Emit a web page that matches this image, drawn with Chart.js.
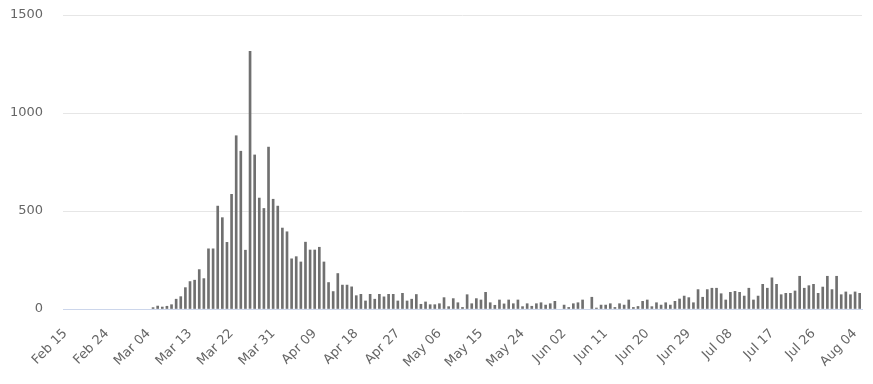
<!DOCTYPE html>
<html>
<head>
<meta charset="utf-8">
<script src="https://cdn.jsdelivr.net/npm/chart.js@4/dist/chart.umd.min.js"></script>
<style>
html,body{margin:0;padding:0;background:#fff;}
#wrap{width:873px;height:384px;position:relative;}
</style>
</head>
<body>
<div id="wrap"><canvas id="c" width="873" height="384"></canvas></div>
<script>
const categories = [
"Feb 15","Feb 16","Feb 17","Feb 18","Feb 19","Feb 20","Feb 21","Feb 22","Feb 23","Feb 24","Feb 25","Feb 26","Feb 27","Feb 28","Feb 29",
"Mar 01","Mar 02","Mar 03","Mar 04","Mar 05","Mar 06","Mar 07","Mar 08","Mar 09","Mar 10","Mar 11","Mar 12","Mar 13","Mar 14","Mar 15","Mar 16","Mar 17","Mar 18","Mar 19","Mar 20","Mar 21","Mar 22","Mar 23","Mar 24","Mar 25","Mar 26","Mar 27","Mar 28","Mar 29","Mar 30","Mar 31",
"Apr 01","Apr 02","Apr 03","Apr 04","Apr 05","Apr 06","Apr 07","Apr 08","Apr 09","Apr 10","Apr 11","Apr 12","Apr 13","Apr 14","Apr 15","Apr 16","Apr 17","Apr 18","Apr 19","Apr 20","Apr 21","Apr 22","Apr 23","Apr 24","Apr 25","Apr 26","Apr 27","Apr 28","Apr 29","Apr 30",
"May 01","May 02","May 03","May 04","May 05","May 06","May 07","May 08","May 09","May 10","May 11","May 12","May 13","May 14","May 15","May 16","May 17","May 18","May 19","May 20","May 21","May 22","May 23","May 24","May 25","May 26","May 27","May 28","May 29","May 30","May 31",
"Jun 01","Jun 02","Jun 03","Jun 04","Jun 05","Jun 06","Jun 07","Jun 08","Jun 09","Jun 10","Jun 11","Jun 12","Jun 13","Jun 14","Jun 15","Jun 16","Jun 17","Jun 18","Jun 19","Jun 20","Jun 21","Jun 22","Jun 23","Jun 24","Jun 25","Jun 26","Jun 27","Jun 28","Jun 29","Jun 30",
"Jul 01","Jul 02","Jul 03","Jul 04","Jul 05","Jul 06","Jul 07","Jul 08","Jul 09","Jul 10","Jul 11","Jul 12","Jul 13","Jul 14","Jul 15","Jul 16","Jul 17","Jul 18","Jul 19","Jul 20","Jul 21","Jul 22","Jul 23","Jul 24","Jul 25","Jul 26","Jul 27","Jul 28","Jul 29","Jul 30","Jul 31",
"Aug 01","Aug 02","Aug 03","Aug 04","Aug 05"
];
const tickLabels = ["Feb 15","Feb 24","Mar 04","Mar 13","Mar 22","Mar 31","Apr 09","Apr 18","Apr 27","May 06","May 15","May 24","Jun 02","Jun 11","Jun 20","Jun 29","Jul 08","Jul 17","Jul 26","Aug 04"];
const yTicks = [0, 500, 1000, 1500];
const dailyValues = [
0,0,0,0,0,0,0,0,0,0,0,0,0,0,0,0,0,0,0,
7,15,10,14,22,50,63,109,140,147,201,155,307,307,525,466,340,585,884,805,300,1315,786,566,513,826,560,525,413,394,256,267,
240,341,301,301,315,240,135,89,181,122,122,113,68,75,41,75,50,75,62,75,75,41,80,41,50,74,24,36,22,22,27,
58,12,53,32,8,73,27,53,46,85,32,19,46,26,46,27,46,12,27,
14,27,32,20,27,39,0,20,8,27,32,46,0,60,5,20,20,27,8,27,20,46,8,13,
39,46,12,32,20,32,20,39,51,66,58,32,99,60,99,106,106,78,46,85,90,85,66,106,
46,66,126,106,159,126,73,80,80,92,167,106,119,126,80,112,167,99,167,73,87,73,87,80
];

const FONT = "'DejaVu Sans', Verdana, sans-serif";
const TXT = '#666666';

new Chart(document.getElementById('c'), {
  type: 'bar',
  data: {
    labels: categories,
    datasets: [{
      data: dailyValues,
      backgroundColor: function(ctx) { return ctx.raw > 0 ? '#707070' : 'rgba(0,0,0,0)'; },
      borderWidth: 0,
      barThickness: 2,
      categoryPercentage: 1,
      barPercentage: 0.5
    }]
  },
  options: {
    responsive: false,
    animation: false,
    events: [],
    layout: { padding: { top: 15, right: 11, left: 0, bottom: 0 } },
    plugins: { legend: { display: false }, tooltip: { enabled: false } },
    scales: {
      x: {
        grid: { display: false, drawTicks: false },
        border: { display: true, color: '#ccd6eb', width: 1 },
        ticks: {
          autoSkip: false,
          minRotation: 45,
          maxRotation: 45,
          padding: 17,
          color: TXT,
          font: { family: FONT, size: 13 },
          callback: function(v, i) {
            const l = categories[i];
            return tickLabels.includes(l) ? l : '';
          }
        },
        afterFit: function(s) { s.height = 75; s.paddingTop = 0; s.paddingBottom = 0; s.paddingLeft = 0; s.paddingRight = 0; }
      },
      y: {
        min: 0,
        max: 1500,
        afterBuildTicks: function(s) { s.ticks = yTicks.map(v => ({ value: v })); },
        grid: {
          color: function(ctx) { return ctx.tick && ctx.tick.value === 0 ? '#ccd6eb' : '#e6e6e6'; },
          drawTicks: false,
          lineWidth: 1
        },
        border: { display: false },
        ticks: {
          padding: 20,
          color: TXT,
          font: { family: FONT, size: 13 },
          callback: function(v) { return String(v); }
        },
        afterFit: function(s) { s.width = 63; s.paddingTop = 0; s.paddingBottom = 0; }
      }
    }
  }
});
</script>
</body>
</html>
